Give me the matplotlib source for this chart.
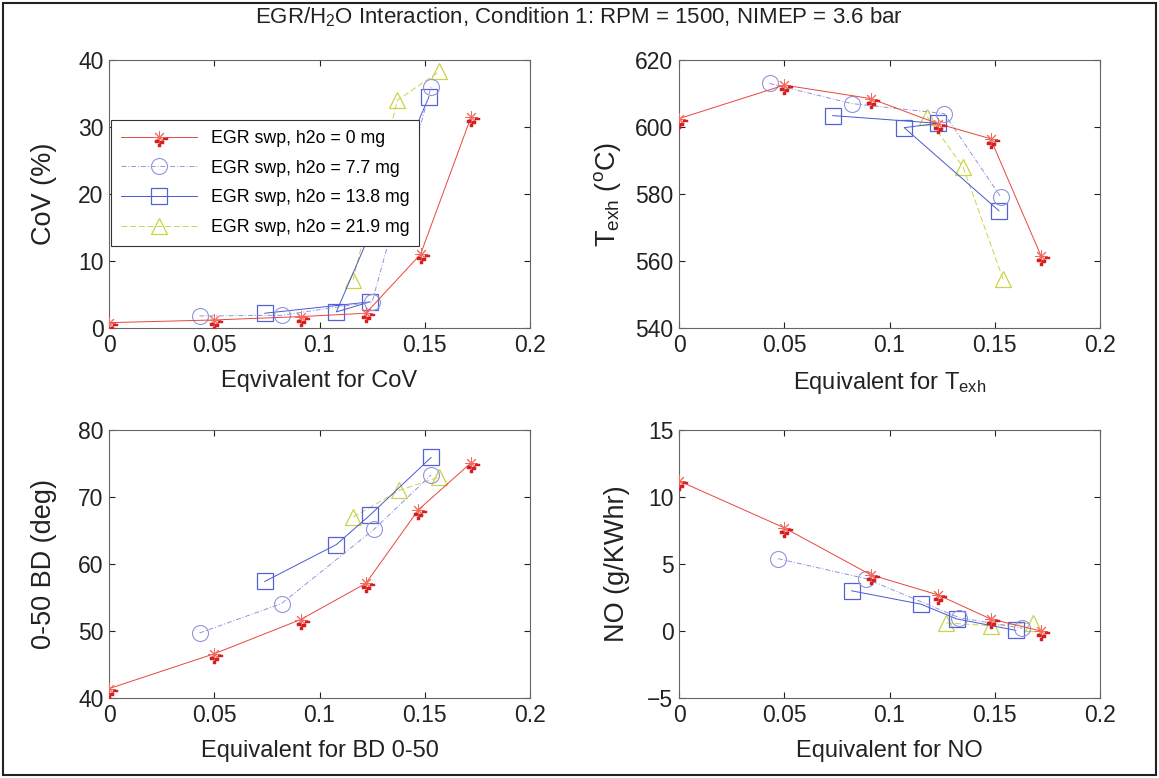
import matplotlib
matplotlib.use("Agg")
import matplotlib.pyplot as plt
import numpy as np
from matplotlib.path import Path
from matplotlib.markers import MarkerStyle
from matplotlib.legend_handler import HandlerTuple
from matplotlib.lines import Line2D
from matplotlib.patches import Rectangle

plt.rcParams['font.family'] = ['Liberation Sans', 'DejaVu Sans']
plt.rcParams['mathtext.fontset'] = 'custom'
plt.rcParams['mathtext.rm'] = 'Liberation Sans'
plt.rcParams['mathtext.it'] = 'Liberation Sans'

# ---- data -----------------------------------------------------------------
series_labels = ['EGR swp, h2o = 0 mg', 'EGR swp, h2o = 7.7 mg',
                 'EGR swp, h2o = 13.8 mg', 'EGR swp, h2o = 21.9 mg']

# CoV (%)
cov_x_0 = [0.0, 0.050, 0.091, 0.122, 0.148, 0.172]
cov_y_0 = [0.8, 1.2, 1.7, 2.2, 11.0, 31.5]
cov_x_77 = [0.043, 0.082, 0.125, 0.153]
cov_y_77 = [1.8, 1.9, 3.9, 36.0]
cov_x_138 = [0.074, 0.124, 0.108, 0.152]
cov_y_138 = [2.2, 3.9, 2.4, 34.5]
cov_x_219 = [0.116, 0.137, 0.157]
cov_y_219 = [7.2, 34.0, 38.3]

# Exhaust temperature (degC)
tex_x_0 = [0.0, 0.050, 0.091, 0.123, 0.148, 0.172]
tex_y_0 = [602.5, 612.5, 608.5, 601.0, 596.5, 561.5]
tex_x_77 = [0.043, 0.082, 0.126, 0.153]
tex_y_77 = [613.0, 607.0, 604.0, 579.0]
tex_x_138 = [0.073, 0.123, 0.107, 0.152]
tex_y_138 = [603.4, 601.1, 599.8, 575.0]
tex_x_219 = [0.118, 0.135, 0.154]
tex_y_219 = [603.0, 588.0, 554.5]

# 0-50 burn duration (deg)
bd_x_0 = [0.0, 0.050, 0.091, 0.122, 0.147, 0.172]
bd_y_0 = [41.4, 46.6, 51.7, 57.1, 68.1, 75.1]
bd_x_77 = [0.043, 0.082, 0.126, 0.153]
bd_y_77 = [49.7, 54.1, 65.2, 73.3]
bd_x_138 = [0.074, 0.108, 0.124, 0.153]
bd_y_138 = [57.4, 62.9, 67.3, 75.9]
bd_x_219 = [0.116, 0.138, 0.157]
bd_y_219 = [67.0, 71.0, 73.0]

# NO (g/kWhr)
no_x_0 = [0.0, 0.050, 0.091, 0.123, 0.148, 0.172]
no_y_0 = [11.2, 7.7, 4.2, 2.7, 0.9, 0.0]
no_x_77 = [0.047, 0.089, 0.133, 0.163]
no_y_77 = [5.4, 3.9, 1.0, 0.2]
no_x_138 = [0.082, 0.115, 0.132, 0.160]
no_y_138 = [3.0, 2.0, 0.9, 0.05]
no_x_219 = [0.127, 0.148, 0.168]
no_y_219 = [0.6, 0.4, 0.6]

panels = [
    dict(xs=[cov_x_0, cov_x_77, cov_x_138, cov_x_219],
         ys=[cov_y_0, cov_y_77, cov_y_138, cov_y_219],
         ylim=(0, 40), yticks=[0, 10, 20, 30, 40],
         ylabel='CoV (%)', xlabel='Eqvivalent for CoV'),
    dict(xs=[tex_x_0, tex_x_77, tex_x_138, tex_x_219],
         ys=[tex_y_0, tex_y_77, tex_y_138, tex_y_219],
         ylim=(540, 620), yticks=[540, 560, 580, 600, 620],
         ylabel=r'T$_{\mathrm{exh}}$ ($^{\mathrm{o}}$C)',
         xlabel=r'Equivalent for T$_{\mathrm{exh}}$'),
    dict(xs=[bd_x_0, bd_x_77, bd_x_138, bd_x_219],
         ys=[bd_y_0, bd_y_77, bd_y_138, bd_y_219],
         ylim=(40, 80), yticks=[40, 50, 60, 70, 80],
         ylabel='0-50 BD (deg)', xlabel='Equivalent for BD 0-50'),
    dict(xs=[no_x_0, no_x_77, no_x_138, no_x_219],
         ys=[no_y_0, no_y_77, no_y_138, no_y_219],
         ylim=(-5, 15), yticks=[-5, 0, 5, 10, 15],
         ylabel='NO (g/KWhr)', xlabel='Equivalent for NO'),
]
xticks = [0, 0.05, 0.1, 0.15, 0.2]
xticklabels = ['0', '0.05', '0.1', '0.15', '0.2']

# ---- marker for the 0 mg series: red asterisk with a cluster of red dots ---
def _blob(cx, cy, w, h):
    return Path([(cx - w / 2, cy - h / 2), (cx + w / 2, cy - h / 2),
                 (cx + w / 2, cy + h / 2), (cx - w / 2, cy + h / 2),
                 (cx - w / 2, cy - h / 2)],
                [Path.MOVETO, Path.LINETO, Path.LINETO, Path.LINETO,
                 Path.CLOSEPOLY])

blobs = [_blob(7.0, -2.0, 5.0, 2.5), _blob(-2.0, -4.5, 4.0, 3.0),
         _blob(3.5, -5.5, 4.0, 3.0), _blob(0.5, -9.0, 4.0, 3.0),
         _blob(-10.5, 10.5, 0.01, 0.01)]  # tiny anchor keeps the scale symmetric
dot_path = Path.make_compound_path(*blobs)
dot_extent = 10.5  # px
dot_ms = 2 * dot_extent * 72 / 100.0
dot_style = dict(ls='none', marker=MarkerStyle(dot_path), ms=dot_ms,
                 mfc='#d42020', mec='#d42020', mew=0.3)

styles = [
    dict(color='#e8463c', ls='-', marker=(8, 2, 0), ms=9, mfc='none',
         mec='#f06a60', mew=0.7, lw=0.7),
    dict(color='#9094dc', ls=(0, (5, 2, 1, 2)), marker='o', ms=11.5,
         mfc='none', mec='#9094dc', mew=0.8, lw=0.7),
    dict(color='#4a58d0', ls='-', marker='s', ms=11.5, mfc='none',
         mec='#5462d6', mew=0.9, lw=0.7),
    dict(color='#c8d44a', ls=(0, (6, 3)), marker='^', ms=11.5, mfc='none',
         mec='#c8d44a', mew=0.9, lw=0.7),
]

def line_kw(st):
    return dict(color=st['color'], ls=st['ls'], lw=st['lw'],
                marker=st['marker'], ms=st['ms'], mfc=st['mfc'],
                mec=st['mec'], mew=st['mew'])

fig = plt.figure(figsize=(11.59, 7.78), dpi=100)
fig.patch.set_facecolor('white')

W, H = 1159.0, 778.0
ax_rects = [(109, 60, 530, 328), (679, 60, 1100, 328),
            (109, 430, 530, 698), (679, 430, 1100, 698)]
ylabel_x = [-0.124, -0.132, -0.124, -0.117]

for i, (p, r) in enumerate(zip(panels, ax_rects)):
    l, t, rr, b = r
    ax = fig.add_axes([l / W, 1 - b / H, (rr - l) / W, (b - t) / H])
    for k in [3, 2, 1, 0]:
        ax.plot(p['xs'][k], p['ys'][k], zorder=3 + (3 - k),
                **line_kw(styles[k]))
        if k == 0:
            ax.plot(p['xs'][k], p['ys'][k], zorder=8, **dot_style)
    ax.set_xlim(0, 0.2)
    ax.set_ylim(*p['ylim'])
    ax.set_xticks(xticks)
    ax.set_xticklabels(xticklabels)
    ax.set_yticks(p['yticks'])
    ax.tick_params(direction='in', length=4, width=0.8, top=True, right=True,
                   labelsize=16.5, colors='#222222', pad=4)
    for s in ax.spines.values():
        s.set_color('#666666')
        s.set_linewidth(0.8)
    ax.set_xlabel(p['xlabel'], fontsize=17, color='#222222')
    ax.xaxis.set_label_coords(0.5, -0.158)
    ax.set_ylabel(p['ylabel'], fontsize=19.5, color='#222222')
    ax.yaxis.set_label_coords(ylabel_x[i], 0.5)

    if i == 0:
        proxies = []
        for k, st in enumerate(styles):
            h = Line2D([], [], **line_kw(st))
            if k == 0:
                h = (h, Line2D([], [], **dot_style))
            proxies.append(h)
        leg = ax.legend(proxies, series_labels,
                        handler_map={tuple: HandlerTuple(ndivide=1)},
                        loc='upper left', bbox_to_anchor=(0.005, 0.776),
                        fontsize=12.8, frameon=True, fancybox=False,
                        framealpha=1, edgecolor='#333333', handlelength=4.3,
                        handletextpad=0.75, borderpad=0.55, labelspacing=0.72,
                        borderaxespad=0.0)
        leg.get_frame().set_linewidth(0.8)
        leg.set_zorder(20)

fig.suptitle(r'EGR/H$_2$O Interaction, Condition 1: RPM = 1500, NIMEP = 3.6 bar',
             x=0.5, y=1 - 5 / H, va='top', fontsize=16, color='#222222')

# figure border
fig.patches.append(Rectangle((3 / W, 3 / H), 1 - 6 / W, 1 - 6 / H,
                             transform=fig.transFigure, fill=False,
                             edgecolor='#222222', linewidth=1.5))

fig.savefig('out.png', dpi=100, facecolor='white')
